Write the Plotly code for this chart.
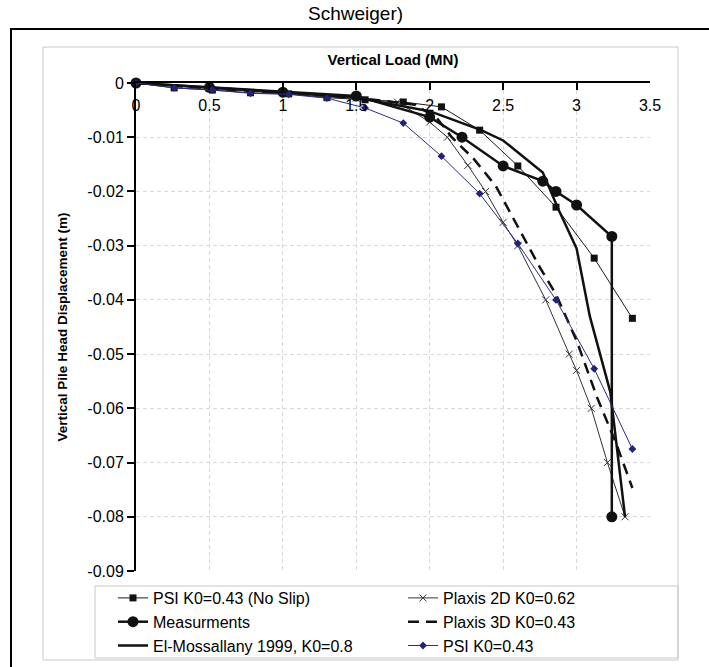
import plotly.graph_objects as go

# Вертикальная нагрузка (MN) и осадка головы сваи (m)
psi_x = [0, 0.26, 0.52, 0.78, 1.04, 1.30, 1.56, 1.82, 2.08, 2.34, 2.60, 2.86, 3.12, 3.38]
noslip_y = [0, -0.0009, -0.0013, -0.0018, -0.0020, -0.0027, -0.0031, -0.0035, -0.0044,
            -0.0087, -0.0153, -0.0229, -0.0323, -0.0434]
psi_y = [0, -0.0009, -0.0013, -0.0019, -0.0021, -0.0028, -0.0046, -0.0074, -0.0135,
         -0.0204, -0.0296, -0.0400, -0.0527, -0.0675]

meas_x = [0, 0.5, 1.0, 1.5, 2.0, 2.22, 2.5, 2.77, 2.86, 3.0, 3.24, 3.24]
meas_y = [0, -0.0008, -0.0017, -0.0024, -0.0063, -0.0100, -0.0153, -0.0181, -0.0200,
          -0.0225, -0.0283, -0.0800]

elm_x = [0, 0.5, 1.0, 1.5, 2.0, 2.35, 2.5, 2.77, 2.88, 3.0, 3.09, 3.23, 3.33]
elm_y = [0, -0.0008, -0.0017, -0.0027, -0.0052, -0.0087, -0.0106, -0.0165, -0.0235,
         -0.0305, -0.0430, -0.0570, -0.0800]

p2d_x = [0, 0.5, 1.0, 1.5, 1.78, 2.0, 2.12, 2.26, 2.38, 2.50, 2.60, 2.79, 2.95, 3.00,
         3.10, 3.21, 3.33]
p2d_y = [0, -0.0010, -0.0018, -0.0028, -0.0035, -0.0072, -0.0100, -0.0152, -0.0200,
         -0.0257, -0.0300, -0.0400, -0.0500, -0.0530, -0.0600, -0.0700, -0.0800]

p3d_x = [0, 0.5, 1.0, 1.5, 1.9, 2.05, 2.15, 2.30, 2.45, 2.55, 2.65, 2.75, 2.86, 3.00,
         3.14, 3.27, 3.38]
p3d_y = [0, -0.0010, -0.0018, -0.0027, -0.0040, -0.0065, -0.0100, -0.0140, -0.0190,
         -0.0240, -0.0290, -0.0340, -0.0390, -0.0475, -0.0580, -0.0665, -0.0747]

x_ticks = [0, 0.5, 1, 1.5, 2, 2.5, 3, 3.5]
x_ticktext = ['0', '0.5', '1', '1.5', '2', '2.5', '3', '3.5']
y_ticks = [0, -0.01, -0.02, -0.03, -0.04, -0.05, -0.06, -0.07, -0.08, -0.09]
y_ticktext = ['0', '-0.01', '-0.02', '-0.03', '-0.04', '-0.05', '-0.06', '-0.07', '-0.08', '-0.09']

FONT = 'Liberation Sans, Arial, sans-serif'
W, H = 709, 667
L, R, T, B = 136, 59, 83, 96
GRID = '#d9d9d9'

def px(x):   # пиксели -> доли paper
    return (x - L) / (W - L - R)

def py(y):
    return (H - B - y) / (H - T - B)

fig = go.Figure()

fig.add_trace(go.Scatter(x=psi_x, y=noslip_y, name='PSI K0=0.43 (No Slip)', mode='lines+markers',
                         line=dict(color='#1a1a1a', width=1),
                         marker=dict(symbol='square', size=7, color='#111111'), cliponaxis=False))
fig.add_trace(go.Scatter(x=p2d_x, y=p2d_y, name='Plaxis 2D K0=0.62', mode='lines+markers',
                         line=dict(color='#333333', width=1),
                         marker=dict(symbol='x-thin', size=7, line=dict(color='#333333', width=1)),
                         cliponaxis=False))
fig.add_trace(go.Scatter(x=meas_x, y=meas_y, name='Measurments', mode='lines+markers',
                         line=dict(color='#111111', width=2.5),
                         marker=dict(symbol='circle', size=11, color='#111111'), cliponaxis=False))
fig.add_trace(go.Scatter(x=p3d_x, y=p3d_y, name='Plaxis 3D K0=0.43', mode='lines',
                         line=dict(color='#111111', width=2.5, dash='11px,7px'), cliponaxis=False))
fig.add_trace(go.Scatter(x=elm_x, y=elm_y, name='El-Mossallany 1999, K0=0.8', mode='lines',
                         line=dict(color='#111111', width=2.5), cliponaxis=False))
fig.add_trace(go.Scatter(x=psi_x, y=psi_y, name='PSI K0=0.43', mode='lines+markers',
                         line=dict(color='#2b2b85', width=1),
                         marker=dict(symbol='diamond', size=6, color='#23237a'), cliponaxis=False))
# пустой след для оси с подписями под верхней осью
fig.add_trace(go.Scatter(x=[None], y=[None], xaxis='x2', showlegend=False, hoverinfo='skip'))

# рамки: внешняя чёрная, серая область диаграммы, рамка легенды
fig.add_shape(type='rect', xref='paper', yref='paper', x0=px(11), x1=px(730), y0=py(690), y1=py(29),
              line=dict(color='black', width=2), layer='below')
fig.add_shape(type='rect', xref='paper', yref='paper', x0=px(43), x1=px(678), y0=py(660), y1=py(47),
              line=dict(color='#c8c8c8', width=1), layer='below')
fig.add_shape(type='rect', xref='paper', yref='paper', x0=px(95), x1=px(678), y0=py(658), y1=py(586),
              line=dict(color='#c8c8c8', width=1), layer='below')

fig.add_annotation(text='Schweiger)', xref='paper', yref='paper', x=px(355), y=py(14),
                   xanchor='center', yanchor='middle',
                   showarrow=False, font=dict(family=FONT, size=19, color='black'))

fig.update_layout(
    width=W, height=H,
    margin=dict(l=L, r=R, t=T, b=B, autoexpand=False),
    paper_bgcolor='white', plot_bgcolor='white',
    font=dict(family=FONT, color='black'),
    legend=dict(orientation='h', x=px(113), xanchor='left', y=py(581), yanchor='top',
                entrywidth=245, entrywidthmode='pixels', font=dict(family=FONT, size=16),
                bgcolor='rgba(0,0,0,0)', borderwidth=0, itemwidth=30, traceorder='normal'),
    showlegend=True,
    xaxis=dict(side='top', range=[0, 3.5], tickvals=x_ticks, ticks='inside', ticklen=7,
               tickwidth=1.5, tickcolor='black', showticklabels=False,
               showline=True, linewidth=2, linecolor='black', zeroline=False,
               showgrid=True, gridcolor=GRID, griddash='4px,3px', gridwidth=1,
               title=dict(text='<b>Vertical Load (MN)</b>', font=dict(family=FONT, size=15),
                          standoff=12)),
    xaxis2=dict(overlaying='x', anchor='free', position=py(94), side='bottom', range=[0, 3.5],
                tickvals=x_ticks, ticktext=x_ticktext, ticks='', showline=False, showgrid=False,
                zeroline=False, tickfont=dict(family=FONT, size=16)),
    yaxis=dict(range=[-0.09, 0], tickvals=y_ticks, ticktext=y_ticktext, ticks='outside', ticklen=7,
               tickwidth=1.5, tickcolor='black', tickfont=dict(family=FONT, size=16),
               showline=True, linewidth=2, linecolor='black', zeroline=False,
               showgrid=True, gridcolor=GRID, griddash='4px,3px', gridwidth=1,
               title=dict(text='<b>Vertical Pile Head Displacement (m)</b>',
                          font=dict(family=FONT, size=13.5), standoff=17)),
)

# убрать стандартный отступ body в 8px
fig.write_html('out.html', config={'displayModeBar': False},
               post_script="document.body.style.margin='0px';")
